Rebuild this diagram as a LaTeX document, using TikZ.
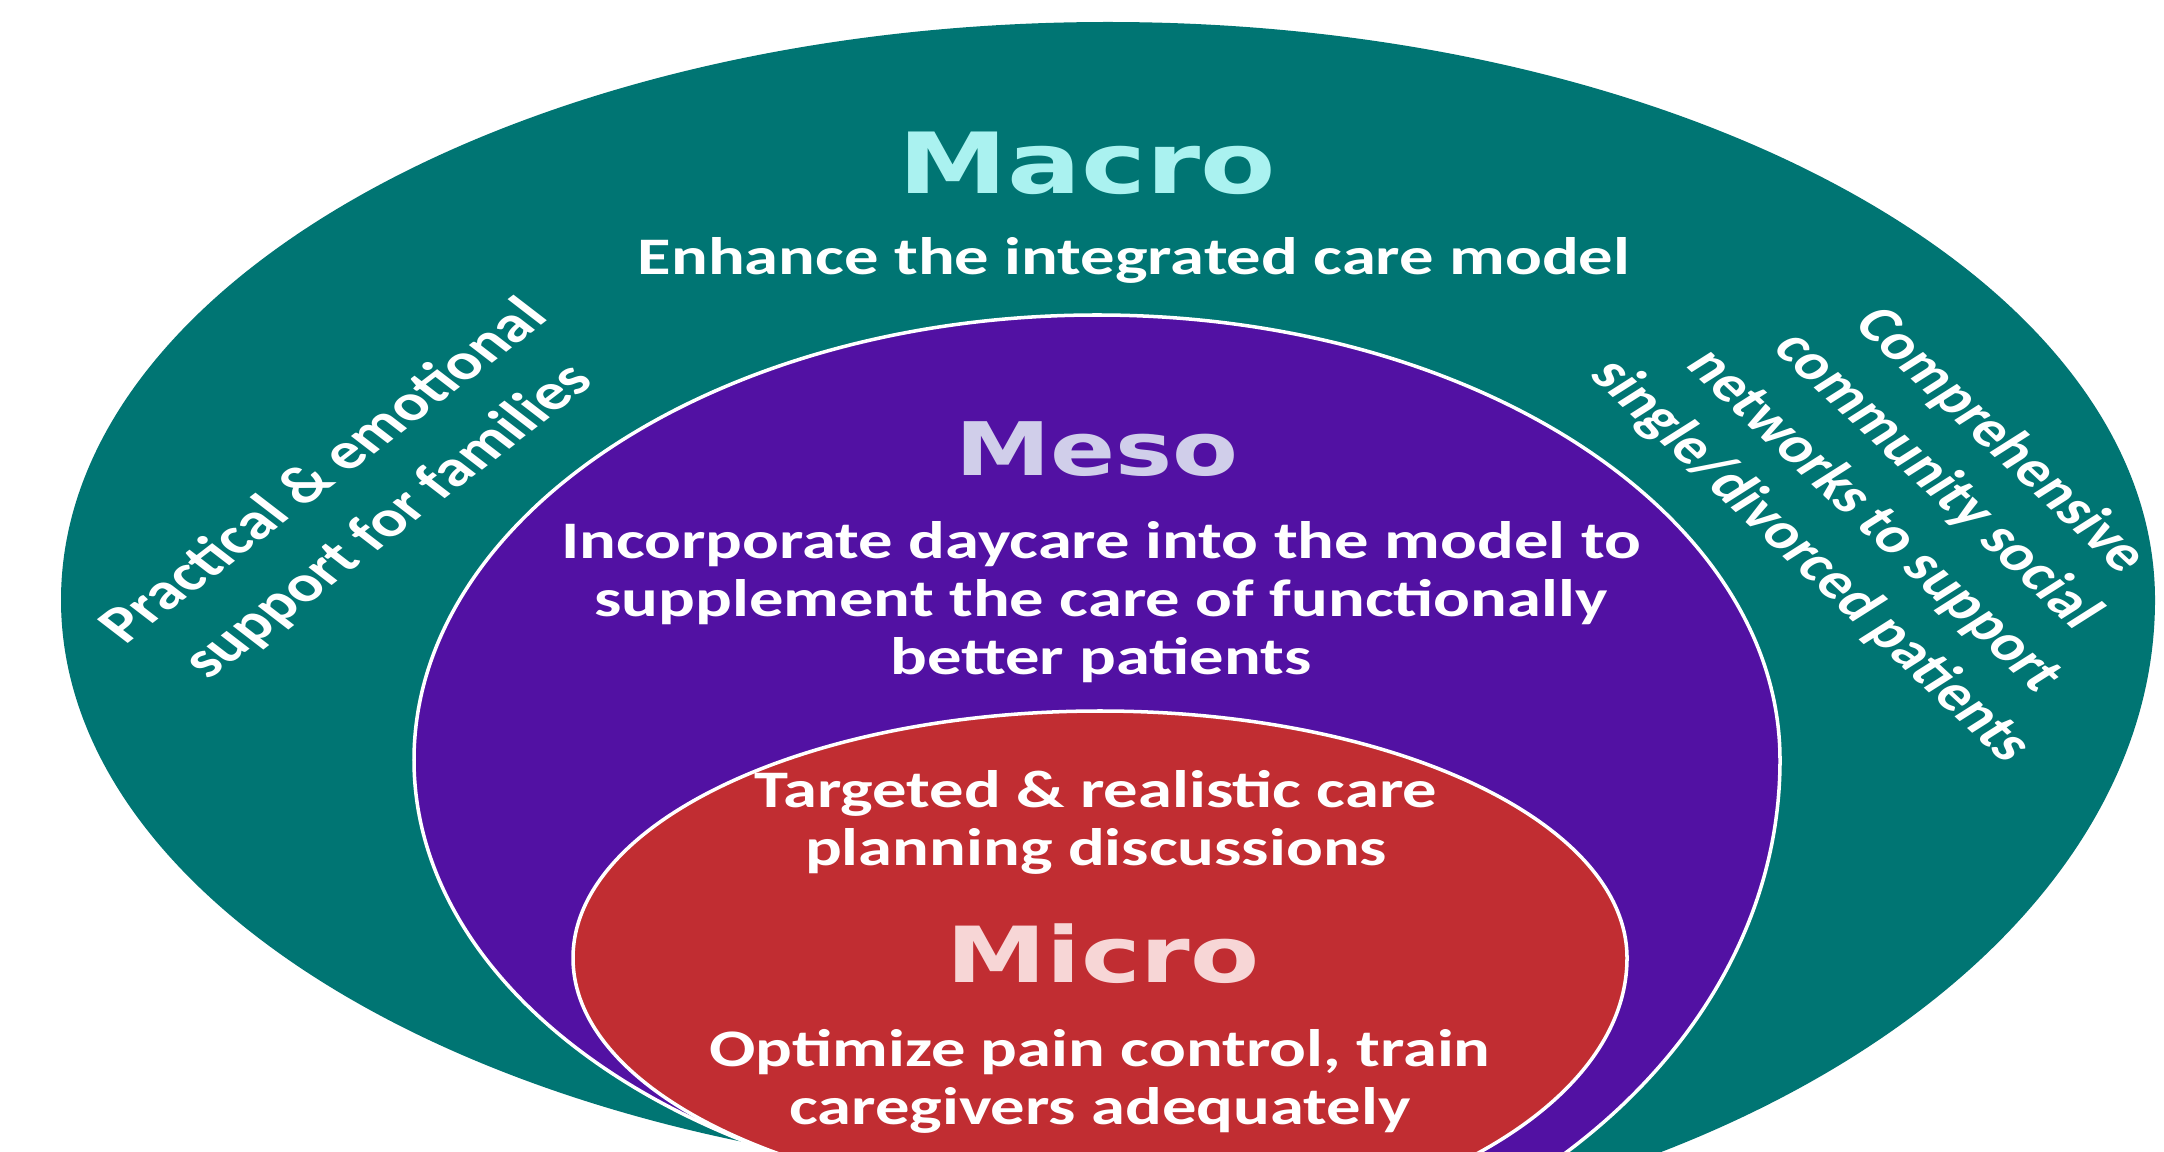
\documentclass[tikz,border=0pt]{standalone}
\usepackage{fontspec}
\setmainfont{Carlito}
\newfontfamily\headfont{DejaVu Sans}
\definecolor{macroteal}{RGB}{0,117,115}
\definecolor{mesopurple}{RGB}{82,17,163}
\definecolor{microred}{RGB}{193,45,50}
\definecolor{macrohead}{RGB}{170,242,240}
\definecolor{mesohead}{RGB}{208,206,234}
\definecolor{microhead}{RGB}{247,214,214}
\tikzset{
  lbl/.style={xscale=1.3,align=center,inner sep=0pt,text=white,
    font=\bfseries\fontsize{15}{16.5}\selectfont},
  head/.style={xscale=1.3,inner sep=0pt,font=\headfont\bfseries\fontsize{#1}{#1}\selectfont}
}

\begin{document}
\begin{tikzpicture}[x=0.01cm,y=-0.01cm]
 \useasboundingbox (0,0) rectangle (2164,1152);
 \fill[white] (0,0) rectangle (2164,1152);
 \clip (0,0) rectangle (2164,1152);
 % the three nested levels (lower right a bit fuller)
 \fill[macroteal] (61,600) arc[start angle=180,end angle=360,x radius=1047,y radius=578]
   arc[start angle=0,end angle=90,x radius=1047,y radius=650] -- (1108,1178)
   arc[start angle=90,end angle=180,x radius=1047,y radius=578] -- cycle;
 \filldraw[mesopurple,draw=white,line width=1pt] (414,760) arc[start angle=180,end angle=360,x radius=683,y radius=445]
   arc[start angle=0,end angle=90,x radius=683,y radius=540] -- (1097,1205)
   arc[start angle=90,end angle=180,x radius=683,y radius=445] -- cycle;
 \filldraw[microred,draw=white,line width=1pt] (573,958) arc[start angle=180,end angle=360,x radius=527,y radius=247]
   arc[start angle=0,end angle=90,x radius=527,y radius=280] -- (1100,1205)
   arc[start angle=90,end angle=180,x radius=527,y radius=247] -- cycle;
 % macro
 \node[head=24,text=macrohead] (macro) at (1087,163) {Macro};
 \node[lbl] (macrotxt) at (1134,260) {Enhance the integrated care model};
 \node[lbl,rotate=45,font=\bfseries\fontsize{14.7}{20}\selectfont] (families) at (357,497)
   {Practical \& emotional\\support for families};
 \node[lbl,rotate=-50.5,font=\bfseries\fontsize{14.3}{17.9}\selectfont] (networks) at (1905,501)
   {Comprehensive\\community social\\networks to support\\single/divorced patients};
 % meso
 \node[head=21,text=mesohead] (meso) at (1097,449) {Meso};
 \node[lbl] (mesotxt) at (1101,602)
   {Incorporate daycare into the model to\\supplement the care of functionally\\better patients};
 % micro
 \node[lbl] (microtop) at (1096,822) {Targeted \& realistic care\\planning discussions};
 \node[head=22,text=microhead] (micro) at (1103,954) {Micro};
 \node[lbl] (microtxt) at (1100,1081) {Optimize pain control, train\\caregivers adequately};
\end{tikzpicture}
\end{document}
